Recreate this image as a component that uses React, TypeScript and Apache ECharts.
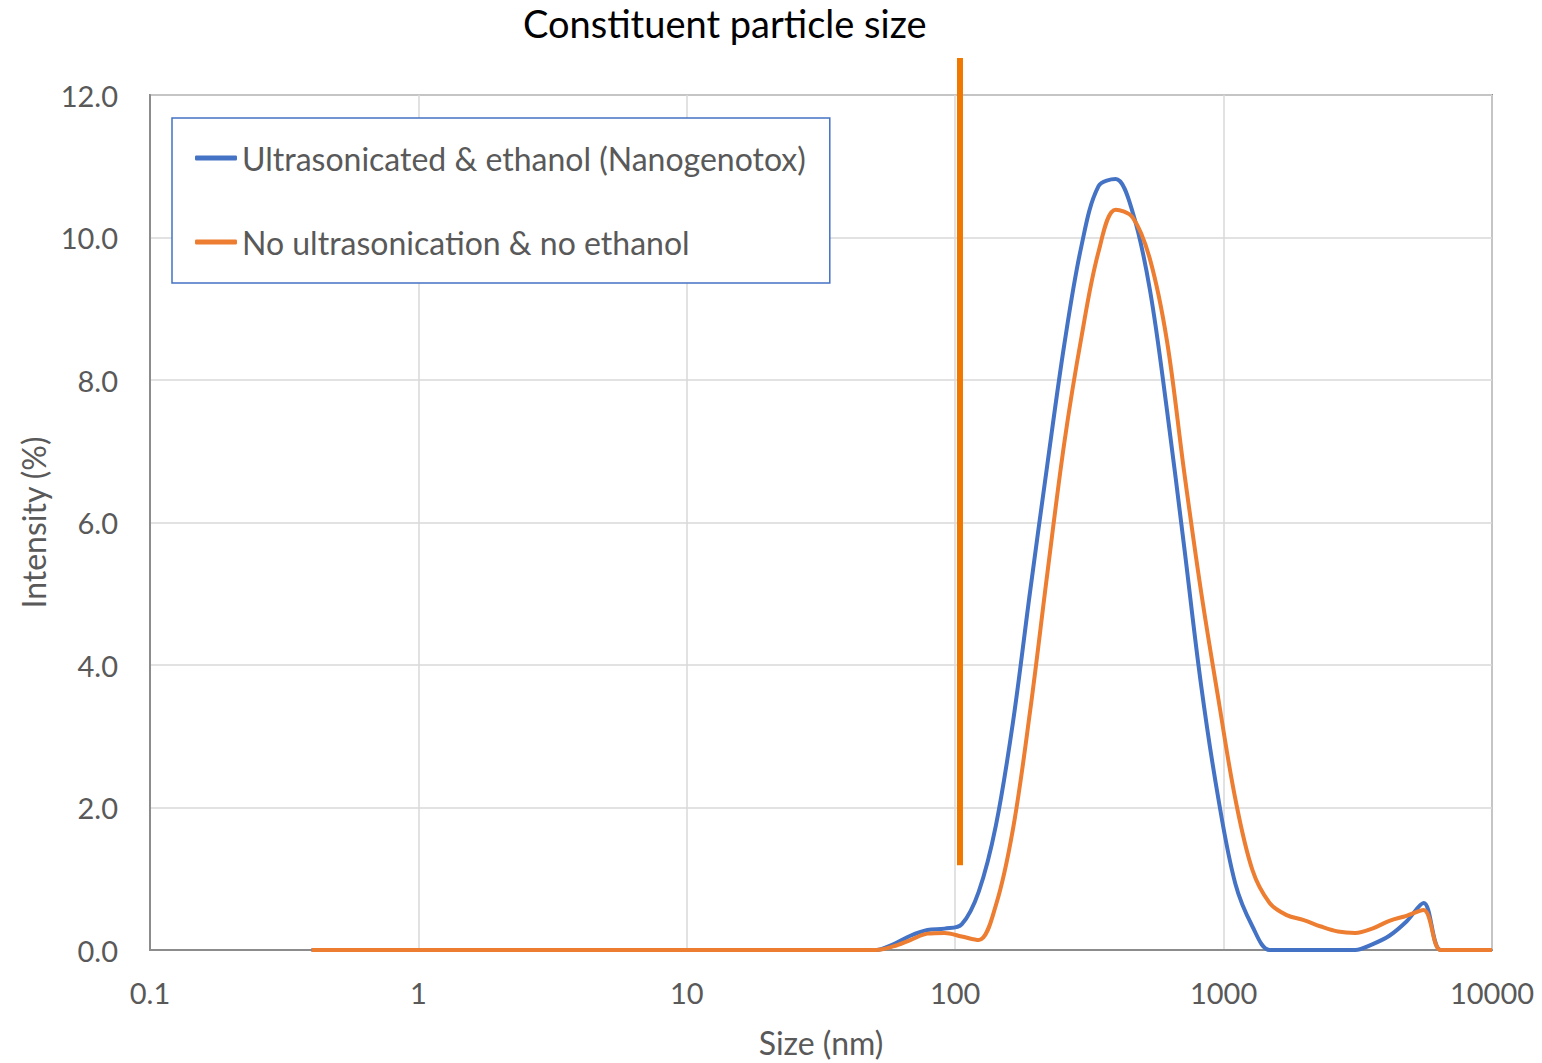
import React, { useEffect, useRef } from "react";
import * as echarts from "echarts";

// Zetasizer size bins (nm)
const sizes = [
  0.4, 0.4632, 0.5365, 0.6213, 0.7195, 0.8332, 0.9649, 1.117, 1.294, 1.499,
  1.736, 2.01, 2.328, 2.696, 3.122, 3.615, 4.187, 4.849, 5.615, 6.503,
  7.531, 8.721, 10.1, 11.7, 13.54, 15.69, 18.17, 21.04, 24.36, 28.21,
  32.67, 37.84, 43.82, 50.75, 58.77, 68.06, 78.82, 91.28, 105.7, 122.4,
  141.8, 164.2, 190.1, 220.2, 255, 295.3, 342, 396.1, 458.7, 531.2,
  615.1, 712.4, 825, 955.4, 1106, 1281, 1484, 1718, 1990, 2305,
  2669, 3091, 3580, 4145, 4801, 5560, 6439, 7456, 8635, 10000,
];

// Intensity (%) – Ultrasonicated & ethanol (Nanogenotox)
const blueValues = [
  0, 0, 0, 0, 0, 0, 0, 0, 0, 0,
  0, 0, 0, 0, 0, 0, 0, 0, 0, 0,
  0, 0, 0, 0, 0, 0, 0, 0, 0, 0,
  0, 0, 0, 0, 0.08, 0.2, 0.28, 0.3, 0.36, 0.82,
  1.75, 3.2, 5.03, 6.8, 8.5, 9.88, 10.72, 10.82, 10.35, 9.27,
  7.58, 5.67, 3.71, 2.13, 0.93, 0.33, 0, 0, 0, 0,
  0, 0, 0.08, 0.2, 0.4, 0.66, 0, 0, 0, 0,
];

// Intensity (%) – No ultrasonication & no ethanol
const orangeValues = [
  0, 0, 0, 0, 0, 0, 0, 0, 0, 0,
  0, 0, 0, 0, 0, 0, 0, 0, 0, 0,
  0, 0, 0, 0, 0, 0, 0, 0, 0, 0,
  0, 0, 0, 0, 0.05, 0.14, 0.23, 0.24, 0.19, 0.14,
  0.63, 1.7, 3.35, 5.27, 7.12, 8.6, 9.8, 10.39, 10.28, 9.7,
  8.55, 6.72, 5.02, 3.53, 2.12, 1.12, 0.66, 0.49, 0.42, 0.33,
  0.26, 0.24, 0.3, 0.41, 0.48, 0.56, 0, 0, 0, 0,
];

const seriesNames = [
  "Ultrasonicated & ethanol (Nanogenotox)",
  "No ultrasonication & no ethanol",
];
const xTickLabels = ["0.1", "1", "10", "100", "1000", "10000"];

// Constituent particle size marker
const markerSize = 104.2;
const markerTop = 12.52;
const markerBottom = 1.19;

const FONT = "Lato";
const GRAY = "#595959";

export default function App() {
  const ref = useRef<HTMLDivElement>(null);

  useEffect(() => {
    if (!ref.current) return;
    const chart = echarts.init(ref.current, null, { renderer: "svg" });
    const option: any = {
      animation: false,
      backgroundColor: "#ffffff",
      textStyle: { fontFamily: FONT },
      title: {
        text: "Constituent particle size",
        left: 523,
        top: 3,
        padding: 0,
        textStyle: {
          fontSize: 38,
          lineHeight: 40,
          fontWeight: "normal",
          color: "#000000",
          fontFamily: FONT,
        },
      },
      legend: {
        orient: "vertical",
        left: 172,
        top: 118,
        padding: [23, 24, 24, 23],
        itemGap: 50,
        itemWidth: 42,
        itemHeight: 5,
        icon: "roundRect",
        borderColor: "#4472C4",
        borderWidth: 1.5,
        backgroundColor: "#ffffff",
        data: seriesNames,
        textStyle: { fontSize: 32, color: GRAY, fontFamily: FONT, lineHeight: 34 },
      },
      grid: {
        left: 150,
        top: 95,
        right: 50,
        bottom: 111,
        show: true,
        borderColor: "#8c8c8c",
        borderWidth: 2,
        backgroundColor: "transparent",
      },
      xAxis: {
        type: "log",
        logBase: 10,
        min: 0.1,
        max: 10000,
        name: "Size (nm)",
        nameLocation: "middle",
        nameGap: 76,
        nameTextStyle: { fontSize: 32, color: GRAY, fontFamily: FONT },
        axisLine: { show: true, lineStyle: { color: "#8c8c8c", width: 2 } },
        axisTick: { show: false },
        minorTick: { show: false },
        axisLabel: {
          fontSize: 29,
          color: GRAY,
          margin: 28,
          fontFamily: FONT,
          formatter: (_v: number, i: number) => xTickLabels[i] ?? String(_v),
        },
        splitLine: { show: true, lineStyle: { color: "#d9d9d9", width: 1.5 } },
      },
      yAxis: {
        type: "value",
        min: 0,
        max: 12,
        interval: 2,
        name: "Intensity (%)",
        nameLocation: "middle",
        nameGap: 101,
        nameTextStyle: { fontSize: 32, color: GRAY, fontFamily: FONT },
        axisLine: { show: true, lineStyle: { color: "#8c8c8c", width: 2 } },
        axisTick: { show: false },
        axisLabel: {
          fontSize: 29,
          color: GRAY,
          margin: 32,
          fontFamily: FONT,
          formatter: (v: number) => v.toFixed(1),
        },
        splitLine: { show: true, lineStyle: { color: "#d9d9d9", width: 1.5 } },
      },
      series: [
        {
          name: seriesNames[0],
          type: "line",
          data: sizes.map((s, i) => [s, blueValues[i]]),
          showSymbol: false,
          symbol: "none",
          smooth: 0.35,
          lineStyle: { color: "#4472C4", width: 4 },
          itemStyle: { color: "#4472C4" },
          z: 3,
        },
        {
          name: seriesNames[1],
          type: "line",
          data: sizes.map((s, i) => [s, orangeValues[i]]),
          showSymbol: false,
          symbol: "none",
          smooth: 0.35,
          lineStyle: { color: "#ED7D31", width: 4 },
          itemStyle: { color: "#ED7D31" },
          z: 4,
        },
      ],
    };
    chart.setOption(option);
    const top = chart.convertToPixel({ xAxisIndex: 0, yAxisIndex: 0 }, [markerSize, markerTop]) as number[];
    const bot = chart.convertToPixel({ xAxisIndex: 0, yAxisIndex: 0 }, [markerSize, markerBottom]) as number[];
    chart.setOption({
      graphic: [
        {
          type: "line",
          z: 100,
          shape: { x1: top[0], y1: top[1], x2: bot[0], y2: bot[1] },
          style: { stroke: "#F07800", lineWidth: 6 },
        },
      ],
    });
    return () => chart.dispose();
  }, []);

  return (
    <div
      ref={ref}
      style={{ position: "absolute", left: 0, top: 0, width: 1542, height: 1063 }}
    />
  );
}
